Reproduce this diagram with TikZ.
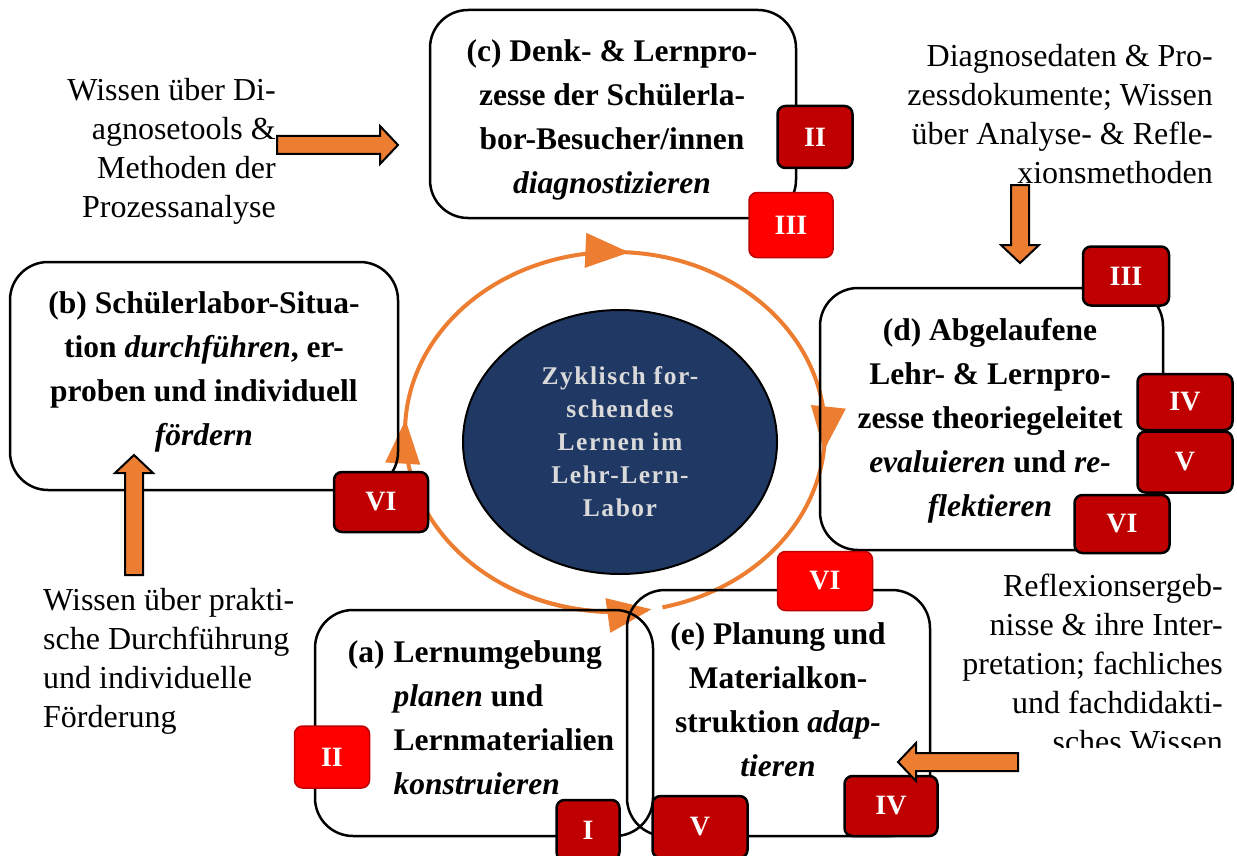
\documentclass[tikz,border=0pt]{standalone}
\usepackage{fontspec}
\setmainfont{Liberation Serif}
\usetikzlibrary{arrows.meta,shapes.geometric}
\definecolor{orng}{HTML}{ED7D31}
\definecolor{navy}{HTML}{203864}
\definecolor{darkred}{HTML}{C00000}
\definecolor{brightred}{HTML}{FF0000}
\definecolor{ltgray}{HTML}{DADADA}
\tikzset{
  box/.style={draw, line width=2.5pt, rounded corners=38pt, inner sep=0pt},
  boxtext/.style={font=\fontsize{31.5}{44}\selectfont\bfseries, align=center, inner sep=0pt},
  outer/.style={font=\fontsize{32}{39}\selectfont, inner sep=0pt},
  badge/.style={rounded corners=8pt, inner sep=0pt, text=white, font=\fontsize{28}{30}\selectfont\bfseries},
  darkbadge/.style={badge, fill=darkred, draw=black, line width=2.5pt},
  brightbadge/.style={badge, fill=brightred, draw=darkred, line width=1.5pt},
  ring/.style={draw=orng, line width=4pt},
  ringhead/.style={-{Triangle[length=44pt,width=34pt]}},
  blockarrow/.style={fill=orng, draw=black, line width=2pt, line join=miter},
}
\newcommand{\barrowdraw}[4]{%
  \begin{scope}[shift={(#1,#2)}, rotate=#3]
    \draw[blockarrow] (0,0) -- (-18,-19) -- (-18,-9) -- (-#4,-9) -- (-#4,9) -- (-18,9) -- (-18,19) -- cycle;
  \end{scope}}
\begin{document}
\begin{tikzpicture}[x=1pt,y=-1pt]
\useasboundingbox (0,0) rectangle (1237,856);

% cycle ring
\draw[ring, ringhead] plot[domain=0:1, samples=60, variable=\t] ({615+210*cos(268-92*\t)}, {432-180*sin(268-92*\t)});
\draw[ring, ringhead] plot[domain=0:1, samples=60, variable=\t] ({615+210*cos(178-92*\t)}, {432-180*sin(178-92*\t)});
\draw[ring, ringhead] plot[domain=0:1, samples=60, variable=\t] ({615+210*cos(89-95*\t)}, {432-180*sin(89-95*\t)});
\draw[ring] plot[domain=0:1, samples=60, variable=\t] ({615+210*cos(-3-74*\t)}, {432-180*sin(-3-74*\t)});
\draw[ring, ringhead] plot[domain=0:1, samples=40, variable=\t] ({615+210*cos(238+42*\t)}, {432-180*sin(238+42*\t)});

% centre ellipse
\node[ellipse, draw, fill=navy, line width=2pt, minimum width=314pt, minimum height=264pt,
      text=ltgray, align=center, inner sep=0pt,
      font=\fontsize{25.5}{33}\selectfont\bfseries\addfontfeatures{LetterSpace=6}] (core) at (620,442)
  {Zyklisch for-\\schendes\\Lernen im\\Lehr-Lern-\\Labor};

% boxes
\node[box, minimum width=366pt, minimum height=208pt] (c) at (613,114) {};
\node[boxtext] (ctext) at (612,120) {(c) Denk- \& Lernpro-\\zesse der Schülerla-\\bor-Besucher/innen\\\textit{diagnostizieren}};

\node[box, minimum width=388pt, minimum height=228pt] (b) at (204,376) {};
\node[boxtext] (btext) at (204,372) {(b) Schülerlabor-Situa-\\tion \textit{durchführen}, er-\\proben und individuell\\\textit{fördern}};

\node[box, minimum width=343pt, minimum height=262pt] (d) at (991.5,419) {};
\node[boxtext] (dtext) at (990,421) {(d) Abgelaufene\\Lehr- \& Lernpro-\\zesse theoriegeleitet\\\textit{evaluieren} und \textit{re-}\\\textit{flektieren}};

\node[box, minimum width=338pt, minimum height=226pt] (a) at (484,723) {};
\node[boxtext, align=left] (atext) at (481,720) {\begin{tabular}{@{}l@{\hspace{9pt}}l@{}}(a) & Lernumgebung\\ & \textit{planen} und\\ & Lernmaterialien\\ & \textit{konstruieren}\end{tabular}};

\node[box, minimum width=303pt, minimum height=246pt] (e) at (778.5,713) {};
\node[boxtext] (etext) at (778,700) {(e) Planung und\\Materialkon-\\struktion \textit{adap-}\\\textit{tieren}};

% badges
\node[darkbadge, minimum width=75pt, minimum height=62pt] (c2) at (815,137) {II};
\node[brightbadge, minimum width=84pt, minimum height=65pt] (c3) at (791,225) {III};
\node[darkbadge, minimum width=94pt, minimum height=60pt] (b6) at (381,502) {VI};
\node[darkbadge, minimum width=86pt, minimum height=59pt] (d3) at (1126,276) {III};
\node[darkbadge, minimum width=95pt, minimum height=56pt] (d4) at (1185,402) {IV};
\node[darkbadge, minimum width=95pt, minimum height=61pt] (d5) at (1185,462) {V};
\node[darkbadge, minimum width=95pt, minimum height=58pt] (d6) at (1122,524) {VI};
\node[brightbadge, minimum width=95pt, minimum height=59pt] (e6) at (825,581) {VI};
\node[brightbadge, minimum width=75pt, minimum height=62pt] (a2) at (332,757) {II};
\node[darkbadge, minimum width=63pt, minimum height=60pt] (a1) at (588,830) {I};
\node[darkbadge, minimum width=95pt, minimum height=62pt] (e5) at (700,827) {V};
\node[darkbadge, minimum width=93pt, minimum height=60pt] (e4) at (891,806) {IV};

% outer knowledge texts
\node[outer, align=right, anchor=east] (kc) at (276,151) {Wissen über Di-\\agnosetools \&\\Methoden der\\Prozessanalyse};
\node[outer, align=right, anchor=east] (kd) at (1213,114) {Diagnosedaten \& Pro-\\zessdokumente; Wissen\\über Analyse- \& Refle-\\xionsmethoden};
\node[outer, align=left, anchor=west] (kb) at (43,661) {Wissen über prakti-\\sche Durchführung\\und individuelle\\Förderung};
\begin{scope}
  \clip (880,560) rectangle (1237,747);
  \node[outer, align=right, anchor=east] (ke) at (1223,663) {Reflexionsergeb-\\nisse \& ihre Inter-\\pretation; fachliches\\und fachdidakti-\\sches Wissen};
\end{scope}

% block arrows
\barrowdraw{398}{145}{0}{121}
\barrowdraw{1020}{263}{-90}{78}
\barrowdraw{134}{455}{90}{120}
\barrowdraw{898}{762}{180}{120}
\end{tikzpicture}
\end{document}
